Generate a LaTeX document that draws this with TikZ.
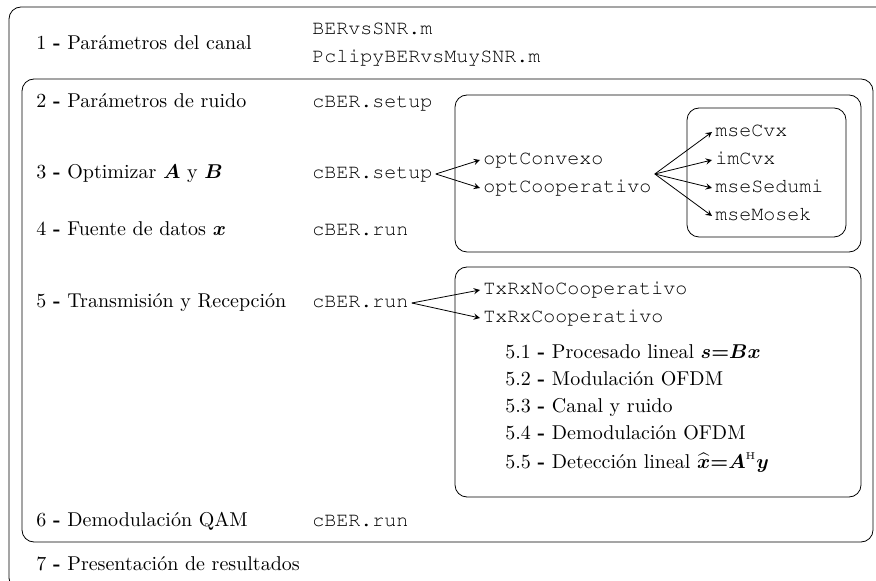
\documentclass[tikz,border=0pt]{standalone}
\usepackage[T1,TU]{fontenc}
\usepackage{amsmath}
\usetikzlibrary{calc}

\newcommand{\gu}{{\bfseries -}}

\tikzset{
	>=stealth,
	lbl/.style={anchor=west, inner sep=1.5pt, text height=7pt, text depth=2pt},
	cod/.style={lbl, font=\fontencoding{T1}\fontfamily{pcr}\selectfont},
	frame/.style={rounded corners=6pt},
}

\begin{document}
\begin{tikzpicture}[x=0.5pt,y=-0.5pt]
		\clip (0,0) rectangle (876,581);
		\draw[frame] (9,7) rectangle (892,590); % Draw the outer frame
		\draw[frame] (22,79) rectangle (873,542); % Draw the frame of steps 2 to 6
		\draw[frame] (455,95) rectangle (861,252); % Draw the optimization frame
		\draw[frame] (687,108) rectangle (846,237); % Draw the solver frame
		\draw[frame] (455,267) rectangle (861,497); % Draw the transmission frame

		\node[lbl] (paso1) at (33,45) {1 \gu{} Parámetros del canal};
		\node[cod] (bervs) at (309,30) {BERvsSNR.m};
		\node[cod] (pclip) at (309,58) {PclipyBERvsMuySNR.m};
		\node[lbl] (paso2) at (33,103) {2 \gu{} Parámetros de ruido};
		\node[cod] (setup2) at (309,103) {cBER.setup};
		\node[lbl] (paso3) at (33,174) {3 \gu{} Optimizar $\boldsymbol{A}$ y $\boldsymbol{B}$};
		\node[cod] (setup3) at (309,174) {cBER.setup};
		\node[lbl] (paso4) at (33,231) {4 \gu{} Fuente de datos $\boldsymbol{x}$};
		\node[cod] (run4) at (309,231) {cBER.run};
		\node[lbl] (paso5) at (33,303) {5 \gu{} Transmisión y Recepción};
		\node[cod] (run5) at (309,303) {cBER.run};
		\node[lbl] (paso6) at (33,521) {6 \gu{} Demodulación QAM};
		\node[cod] (run6) at (309,521) {cBER.run};
		\node[lbl] (paso7) at (33,565) {7 \gu{} Presentación de resultados};

		\node[cod] (optconv) at (480,160) {optConvexo};
		\node[cod] (optcoop) at (480,188) {optCooperativo};
		\node[cod] (msecvx) at (712,132) {mseCvx};
		\node[cod] (imcvx) at (712,160) {imCvx};
		\node[cod] (msesed) at (712,188) {mseSedumi};
		\node[cod] (msemos) at (712,216) {mseMosek};
		\coordinate (optfan) at ($(optcoop.east)+(0,-14)$);

		\node[cod] (txno) at (480,290) {TxRxNoCooperativo};
		\node[cod] (txco) at (480,318) {TxRxCooperativo};
		\node[lbl] (sub1) at (502,354) {5.1 \gu{} Procesado lineal $\boldsymbol{s}{\boldsymbol{=}}\boldsymbol{B}\boldsymbol{x}$};
		\node[lbl] (sub2) at (502,381) {5.2 \gu{} Modulación OFDM};
		\node[lbl] (sub3) at (502,408) {5.3 \gu{} Canal y ruido};
		\node[lbl] (sub4) at (502,435) {5.4 \gu{} Demodulación OFDM};
		\node[lbl] (sub5) at (502,463) {5.5 \gu{} Detección lineal $\widehat{\boldsymbol{x}}{\boldsymbol{=}}\boldsymbol{A}^{\scriptscriptstyle\mathrm{H}}\boldsymbol{y}$};

		\draw[->] (setup3.east) -- (optconv.west); % Draw the arrows to the optimizers
		\draw[->] (setup3.east) -- (optcoop.west);
		\draw[->] (optfan) -- (msecvx.west); % Draw the arrows to the solvers
		\draw[->] (optfan) -- (imcvx.west);
		\draw[->] (optfan) -- (msesed.west);
		\draw[->] (optfan) -- (msemos.west);
		\draw[->] (run5.east) -- (txno.west); % Draw the arrows to the transceivers
		\draw[->] (run5.east) -- (txco.west);
	\end{tikzpicture}
\end{document}
